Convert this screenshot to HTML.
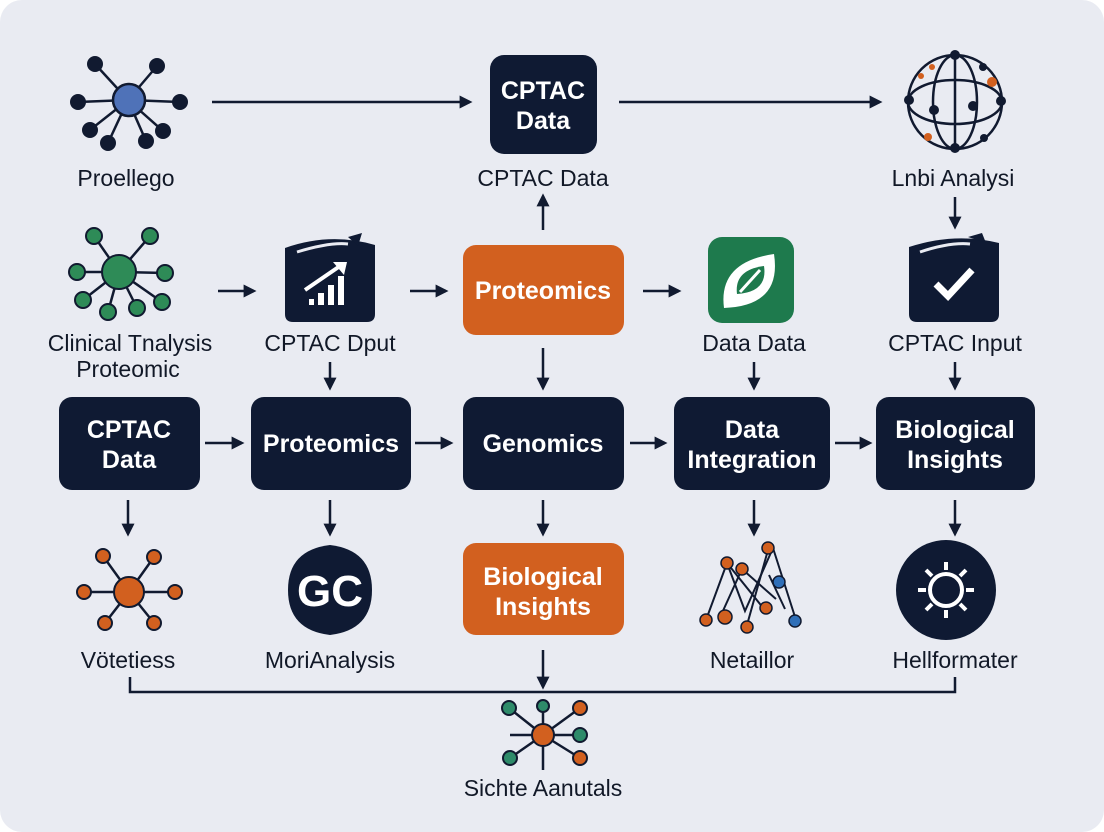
<!DOCTYPE html>
<html><head><meta charset="utf-8"><style>
html,body{margin:0;padding:0;background:#fff;}
svg{display:block;}
text{font-family:"Liberation Sans",sans-serif;}
.lb{font-size:23px;fill:#111827;text-anchor:middle;}
.bx{font-size:25px;fill:#fff;text-anchor:middle;font-weight:bold;}
</style></head><body>
<svg width="1104" height="832" viewBox="0 0 1104 832" xmlns="http://www.w3.org/2000/svg">
<defs>
<marker id="ahs" viewBox="0 0 10 10" markerWidth="13" markerHeight="13" refX="8" refY="5" orient="auto" markerUnits="userSpaceOnUse"><path d="M0,0 L10,5 L0,10 z" fill="#111a30"/></marker>
</defs>
<rect x="0" y="0" width="1104" height="832" rx="22" fill="#e9ebf2"/>
<g stroke="#111a30" stroke-width="2.5" fill="none" marker-end="url(#ahs)">
<line x1="212" y1="102" x2="470" y2="102"/>
<line x1="619" y1="102" x2="880" y2="102"/>
<line x1="218" y1="291" x2="254" y2="291"/>
<line x1="410" y1="291" x2="446" y2="291"/>
<line x1="643" y1="291" x2="679" y2="291"/>
<line x1="543" y1="230" x2="543" y2="196"/>
<line x1="955" y1="197" x2="955" y2="227"/>
<line x1="330" y1="362" x2="330" y2="388"/>
<line x1="543" y1="348" x2="543" y2="388"/>
<line x1="754" y1="362" x2="754" y2="388"/>
<line x1="955" y1="362" x2="955" y2="388"/>
<line x1="205" y1="443" x2="242" y2="443"/>
<line x1="415" y1="443" x2="451" y2="443"/>
<line x1="630" y1="443" x2="665" y2="443"/>
<line x1="835" y1="443" x2="870" y2="443"/>
<line x1="128" y1="500" x2="128" y2="534"/>
<line x1="330" y1="500" x2="330" y2="534"/>
<line x1="543" y1="500" x2="543" y2="534"/>
<line x1="754" y1="500" x2="754" y2="534"/>
<line x1="955" y1="500" x2="955" y2="534"/>
<line x1="543" y1="650" x2="543" y2="687"/>
</g>
<path d="M130,677 V692 H955 V677" stroke="#111a30" stroke-width="2.5" fill="none"/>

<g stroke="#111a30" stroke-width="2.5">
<line x1="128" y1="100" x2="95" y2="64"/><line x1="128" y1="100" x2="157" y2="66"/>
<line x1="128" y1="100" x2="78" y2="102"/><line x1="128" y1="100" x2="180" y2="102"/>
<line x1="128" y1="100" x2="90" y2="130"/><line x1="128" y1="100" x2="108" y2="143"/>
<line x1="128" y1="100" x2="146" y2="141"/><line x1="128" y1="100" x2="163" y2="131"/>
</g>
<g fill="#111a30"><circle cx="95" cy="64" r="8"/><circle cx="157" cy="66" r="8"/><circle cx="78" cy="102" r="8"/><circle cx="180" cy="102" r="8"/><circle cx="90" cy="130" r="8"/><circle cx="108" cy="143" r="8"/><circle cx="146" cy="141" r="8"/><circle cx="163" cy="131" r="8"/></g>
<circle cx="129" cy="100" r="16" fill="#4f72b8" stroke="#111a30" stroke-width="2.5"/>
<text class="lb" x="126" y="186">Proellego</text>

<rect x="490" y="55" width="107" height="99" rx="14" fill="#0f1a33"/>
<text class="bx" x="543" y="99">CPTAC</text><text class="bx" x="543" y="129">Data</text>
<text class="lb" x="543" y="186">CPTAC Data</text>

<g stroke="#111a30" stroke-width="2.5" fill="none">
<circle cx="955" cy="102" r="47"/>
<ellipse cx="955" cy="102" rx="47" ry="22"/>
<ellipse cx="955" cy="102" rx="22" ry="47"/>
<line x1="955" y1="55" x2="955" y2="149"/>
</g>
<g fill="#111a30"><circle cx="955" cy="55" r="5"/><circle cx="955" cy="148" r="5"/><circle cx="909" cy="100" r="5"/><circle cx="1001" cy="101" r="5"/><circle cx="934" cy="110" r="5"/><circle cx="973" cy="106" r="5"/><circle cx="983" cy="67" r="4"/><circle cx="984" cy="138" r="4"/></g>
<g fill="#d2601f"><circle cx="992" cy="82" r="5"/><circle cx="928" cy="137" r="4"/><circle cx="932" cy="67" r="3"/><circle cx="921" cy="76" r="3"/></g>
<text class="lb" x="953" y="186">Lnbi Analysi</text>

<g stroke="#111a30" stroke-width="2.5">
<line x1="119" y1="272" x2="94" y2="236"/><line x1="119" y1="272" x2="150" y2="236"/>
<line x1="119" y1="272" x2="77" y2="272"/><line x1="119" y1="272" x2="165" y2="273"/>
<line x1="119" y1="272" x2="83" y2="300"/><line x1="119" y1="272" x2="108" y2="312"/>
<line x1="119" y1="272" x2="137" y2="308"/><line x1="119" y1="272" x2="162" y2="302"/>
</g>
<g fill="#2e8b57" stroke="#111a30" stroke-width="2"><circle cx="94" cy="236" r="8"/><circle cx="150" cy="236" r="8"/><circle cx="77" cy="272" r="8"/><circle cx="165" cy="273" r="8"/><circle cx="83" cy="300" r="8"/><circle cx="108" cy="312" r="8"/><circle cx="137" cy="308" r="8"/><circle cx="162" cy="302" r="8"/>
<circle cx="119" cy="272" r="17"/></g>
<text class="lb" x="130" y="351">Clinical Tnalysis</text>
<text class="lb" x="128" y="377">Proteomic</text>

<path d="M285,248 Q330,232 375,245 V314 Q375,322 367,322 H293 Q285,322 285,314 Z" fill="#0f1a33"/>
<path d="M297,252 Q330,242 348,244" stroke="#e9ebf2" stroke-width="3" fill="none"/>
<path d="M348,237 L362,233 L358,246 Z" fill="#0f1a33"/>
<g fill="#fff"><rect x="309" y="299" width="5" height="6"/><rect x="318" y="293" width="6" height="12"/><rect x="328" y="285" width="6" height="20"/><rect x="338" y="276" width="6" height="29"/></g>
<path d="M305,290 L340,266" stroke="#fff" stroke-width="4"/><path d="M333,262 L347,262 L344,275 Z" fill="#fff"/>
<text class="lb" x="330" y="351">CPTAC Dput</text>

<rect x="463" y="245" width="161" height="90" rx="13" fill="#d2601f"/>
<text class="bx" x="543" y="299">Proteomics</text>

<rect x="708" y="237" width="86" height="86" rx="14" fill="#1e7a4d"/>
<path d="M724,308 Q718,262 774,254 Q782,306 724,308 Z" fill="#fff"/>
<path d="M737,294 Q734,270 764,266 Q768,292 737,294 Z" fill="#1e7a4d"/>
<path d="M740,292 L760,270" stroke="#fff" stroke-width="3"/>
<text class="lb" x="754" y="351">Data Data</text>

<path d="M909,247 Q955,232 999,243 V314 Q999,322 991,322 H917 Q909,322 909,314 Z" fill="#0f1a33"/>
<path d="M920,252 Q950,242 970,244" stroke="#e9ebf2" stroke-width="3" fill="none"/>
<path d="M968,237 L982,233 L986,243 Z" fill="#0f1a33"/>
<path d="M936,284 L948,296 L972,270" stroke="#fff" stroke-width="7" fill="none"/>
<text class="lb" x="955" y="351">CPTAC Input</text>

<g fill="#0f1a33">
<rect x="59" y="397" width="141" height="93" rx="13"/>
<rect x="251" y="397" width="160" height="93" rx="13"/>
<rect x="463" y="397" width="161" height="93" rx="13"/>
<rect x="674" y="397" width="156" height="93" rx="13"/>
<rect x="876" y="397" width="159" height="93" rx="13"/>
</g>
<text class="bx" x="129" y="438">CPTAC</text><text class="bx" x="129" y="468">Data</text>
<text class="bx" x="331" y="452">Proteomics</text>
<text class="bx" x="543" y="452">Genomics</text>
<text class="bx" x="752" y="438">Data</text><text class="bx" x="752" y="468">Integration</text>
<text class="bx" x="955" y="438">Biological</text><text class="bx" x="955" y="468">Insights</text>

<g stroke="#111a30" stroke-width="2.5">
<line x1="129" y1="592" x2="103" y2="556"/><line x1="129" y1="592" x2="154" y2="557"/>
<line x1="129" y1="592" x2="84" y2="592"/><line x1="129" y1="592" x2="175" y2="592"/>
<line x1="129" y1="592" x2="105" y2="623"/><line x1="129" y1="592" x2="154" y2="623"/>
</g>
<g fill="#d2601f" stroke="#111a30" stroke-width="2"><circle cx="103" cy="556" r="7"/><circle cx="154" cy="557" r="7"/><circle cx="84" cy="592" r="7"/><circle cx="175" cy="592" r="7"/><circle cx="105" cy="623" r="7"/><circle cx="154" cy="623" r="7"/><circle cx="129" cy="592" r="15"/></g>
<text class="lb" x="128" y="668">Vötetiess</text>

<path d="M330,545 Q372,550 372,590 Q372,630 330,635 Q288,630 288,590 Q288,550 330,545 Z" fill="#0f1a33"/>
<text x="330" y="606" text-anchor="middle" font-size="44" font-weight="bold" fill="#fff">GC</text>
<text class="lb" x="330" y="668">MoriAnalysis</text>

<rect x="463" y="543" width="161" height="92" rx="13" fill="#d2601f"/>
<text class="bx" x="543" y="585">Biological</text><text class="bx" x="543" y="615">Insights</text>

<g stroke="#111a30" stroke-width="2" fill="none">
<path d="M706,620 L727,563 L745,611 L773,548 L796,620"/>
<path d="M727,563 L768,614"/><path d="M742,569 L776,599"/><path d="M722,613 L742,569"/><path d="M747,625 L768,550"/>
<path d="M769,575 L785,609"/>
</g>
<g stroke="#111a30" stroke-width="1.5"><circle cx="727" cy="563" r="6" fill="#d2601f"/><circle cx="742" cy="569" r="6" fill="#d2601f"/><circle cx="768" cy="548" r="6" fill="#d2601f"/><circle cx="779" cy="582" r="6" fill="#2f6fb8"/><circle cx="706" cy="620" r="6" fill="#d2601f"/><circle cx="725" cy="617" r="7" fill="#d2601f"/><circle cx="747" cy="627" r="6" fill="#d2601f"/><circle cx="766" cy="608" r="6" fill="#d2601f"/><circle cx="795" cy="621" r="6" fill="#2f6fb8"/></g>
<text class="lb" x="752" y="668">Netaillor</text>

<circle cx="946" cy="590" r="50" fill="#0f1a33"/>
<circle cx="946" cy="590" r="16" fill="none" stroke="#fff" stroke-width="4"/>
<g stroke="#fff" stroke-width="4"><line x1="946" y1="562" x2="946" y2="570"/><line x1="946" y1="610" x2="946" y2="618"/><line x1="918" y1="590" x2="926" y2="590"/><line x1="966" y1="590" x2="974" y2="590"/><line x1="926" y1="570" x2="932" y2="576"/><line x1="960" y1="604" x2="966" y2="610"/><line x1="966" y1="570" x2="960" y2="576"/><line x1="932" y1="604" x2="926" y2="610"/></g>
<text class="lb" x="955" y="668">Hellformater</text>

<g stroke="#111a30" stroke-width="2.5">
<line x1="543" y1="700" x2="543" y2="770"/>
<line x1="543" y1="735" x2="509" y2="708"/><line x1="543" y1="735" x2="580" y2="708"/>
<line x1="510" y1="735" x2="580" y2="735"/><line x1="543" y1="735" x2="510" y2="758"/><line x1="543" y1="735" x2="580" y2="758"/>
</g>
<g stroke="#111a30" stroke-width="2"><circle cx="509" cy="708" r="7" fill="#2e8b6a"/><circle cx="543" cy="706" r="6" fill="#2e8b6a"/><circle cx="580" cy="708" r="7" fill="#d2601f"/><circle cx="580" cy="735" r="7" fill="#2e8b6a"/><circle cx="510" cy="758" r="7" fill="#2e8b6a"/><circle cx="580" cy="758" r="7" fill="#d2601f"/><circle cx="543" cy="735" r="11" fill="#d2601f"/></g>
<text class="lb" x="543" y="796">Sichte Aanutals</text>
</svg>
</body></html>
